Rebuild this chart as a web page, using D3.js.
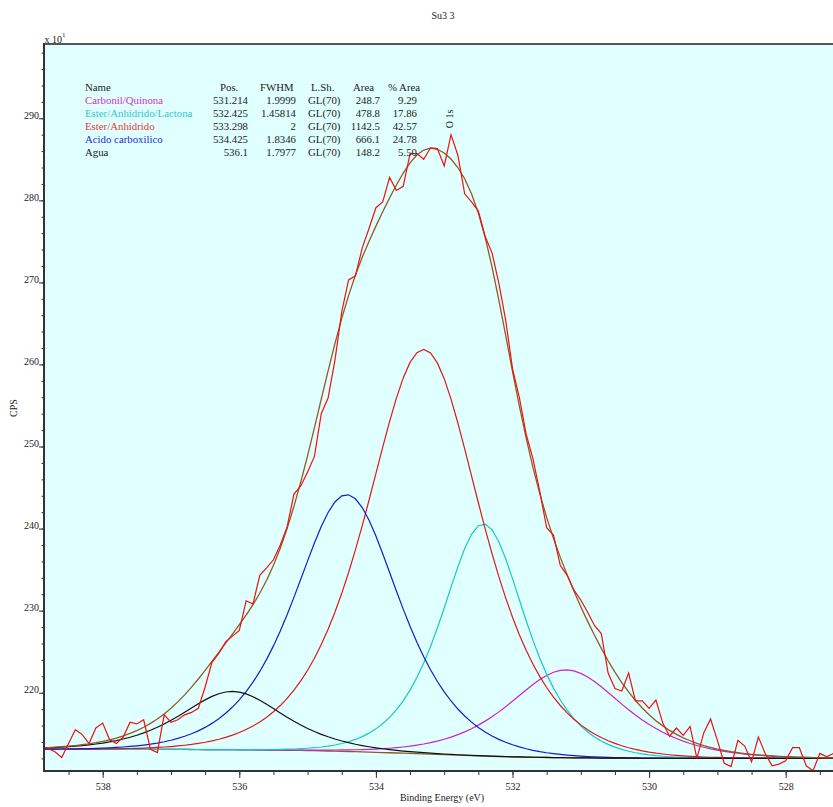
<!DOCTYPE html>
<html><head><meta charset="utf-8">
<script src="https://cdn.jsdelivr.net/npm/d3@7"></script>
<style>body{margin:0;background:#fff}text{font-family:"Liberation Serif","Times New Roman",serif}</style>
</head><body>
<svg id="c" width="833" height="807"></svg>
<script>
// ---- data ----
const energies = [538.9,538.8,538.7,538.6,538.5,538.4,538.3,538.2,538.1,538.0,
537.9,537.8,537.7,537.6,537.5,537.4,537.3,537.2,537.1,537.0,
536.9,536.8,536.7,536.6,536.5,536.4,536.3,536.2,536.1,536.0,
535.9,535.8,535.7,535.6,535.5,535.4,535.3,535.2,535.1,535.0,
534.9,534.8,534.7,534.6,534.5,534.4,534.3,534.2,534.1,534.0,
533.9,533.8,533.7,533.6,533.5,533.4,533.3,533.2,533.1,533.0,
532.9,532.8,532.7,532.6,532.5,532.4,532.3,532.2,532.1,532.0,
531.9,531.8,531.7,531.6,531.5,531.4,531.3,531.2,531.1,531.0,
530.9,530.8,530.7,530.6,530.5,530.4,530.3,530.2,530.1,530.0,
529.9,529.8,529.7,529.6,529.5,529.4,529.3,529.2,529.1,529.0,
528.9,528.8,528.7,528.6,528.5,528.4,528.3,528.2,528.1,528.0,
527.9,527.8,527.7,527.6,527.5,527.4,527.3];
const counts = [213.5,213.2,212.8,212.1,213.8,215.5,214.9,213.8,215.7,216.3,
214.3,213.8,214.6,216.4,216.2,216.7,213.1,212.7,217.3,216.4,
216.7,217.3,217.6,218.1,220.7,223.7,224.8,226.2,226.9,227.6,
231.2,230.8,234.3,235.2,236.2,238.0,240.2,244.2,245.2,246.9,
248.8,254.0,255.9,260.5,266.4,270.3,270.8,274.2,276.6,279.1,
279.8,282.8,281.2,281.7,285.7,285.7,285.0,286.4,286.3,284.2,
288.0,285.5,280.8,279.8,278.7,275.6,273.6,269.9,265.4,259.5,
256.0,251.5,248.5,244.5,240.1,239.2,235.5,234.3,232.5,231.3,
229.8,228.2,227.2,222.4,220.5,220.2,222.4,219.0,219.0,218.1,
219.1,216.3,214.7,215.7,214.8,215.9,212.0,215.1,216.8,214.2,
211.4,211.0,214.2,213.5,211.6,214.6,212.6,211.1,211.3,211.7,
213.3,213.3,211.1,210.5,212.6,212.2,212.6];

const peakNames  = ["Carbonil/Quinona","Ester/Anhidrido/Lactona","Ester/Anhidrido","Acido carboxilico","Agua"];
const peakPos    = [531.214, 532.425, 533.298, 534.425, 536.1];
const peakFWHM   = [1.9999, 1.45814, 2, 1.8346, 1.7977];
const peakLSh    = ["GL(70)","GL(70)","GL(70)","GL(70)","GL(70)"];
const peakArea   = ["248.7","478.8","1142.5","666.1","148.2"];
const peakPct    = ["9.29","17.86","42.57","24.78","5.50"];
const peakHeight = [10.7, 28.3, 49.3, 31.3, 7.1];   // peak heights above background (x10 CPS)
const peakLabelColors = ["#cc33cc","#33c8c8","#e23a3a","#2a2ae0","#222222"];
const peakLineColors  = ["#cc22cc","#18c8c8","#e01818","#1a1acc","#111111"];
const bgLeft = 213.1, bgRight = 212.0;   // Shirley background end levels
const xMajor = [538,536,534,532,530,528];
const yMajor = [220,230,240,250,260,270,280,290];
const xMinor = d3.range(538.5, 527.4, -0.5);
const yMinor = d3.range(212, 299, 2);

// ---- layout ----
const svg = d3.select("#c");
const L = 44, T = 44, R = 833, B = 771;
const x = d3.scaleLinear().domain([538.8594, 527.3075]).range([L, R]);
const y = d3.scaleLinear().domain([210.46, 299.05]).range([B, T]);

svg.append("defs").append("clipPath").attr("id","clip")
  .append("rect").attr("x",L).attr("y",T).attr("width",R-L).attr("height",B-T);
svg.append("rect").attr("x",L).attr("y",T).attr("width",R-L).attr("height",B-T).attr("fill","#e0ffff");

// ---- GL(m) product lineshape, normalised so that width at half height = FWHM ----
function glRaw(d, m){ return Math.exp(-4*Math.LN2*(1-m)*d*d)/(1+4*m*d*d); }
function halfPoint(m){ let lo=0, hi=1; for(let i=0;i<60;i++){const mid=(lo+hi)/2; if(glRaw(mid,m)>0.5) lo=mid; else hi=mid;} return (lo+hi)/2; }
const m70 = 0.7, d0 = halfPoint(m70);
function gl(E, pos, fwhm, h){ return h*glRaw((E-pos)/fwhm*2*d0, m70); }

const comps = peakPos.map((p,i)=> energies.map(E=> gl(E,p,peakFWHM[i],peakHeight[i])));
const sumPk = energies.map((E,j)=> d3.sum(comps, c=>c[j]));
// Shirley-type background from cumulative peak area (integrated from the low-BE end)
const n = energies.length;
const cum = new Array(n).fill(0);
for (let j=n-2;j>=0;j--) cum[j] = cum[j+1] + 0.5*(sumPk[j]+sumPk[j+1])*Math.abs(energies[j]-energies[j+1]);
const bg = cum.map(c=> bgRight + (bgLeft-bgRight)*c/cum[0]);

const line = d3.line().x(d=>x(d[0])).y(d=>y(d[1]));
const plot = svg.append("g").attr("clip-path","url(#clip)");

plot.append("path").datum(energies.map((E,j)=>[E,bg[j]]))
  .attr("d",line).attr("fill","none").attr("stroke","#8a5a2a").attr("stroke-width",1.3);
comps.forEach((c,i)=>{
  plot.append("path").datum(energies.map((E,j)=>[E,bg[j]+c[j]]))
    .attr("d",line).attr("fill","none").attr("stroke",peakLineColors[i]).attr("stroke-width",1.2);
});
plot.append("path").datum(energies.map((E,j)=>[E,bg[j]+sumPk[j]]))
  .attr("d",line).attr("fill","none").attr("stroke","#935a20").attr("stroke-width",1.3);
plot.append("path").datum(energies.map((E,j)=>[E,counts[j]]))
  .attr("d",line).attr("fill","none").attr("stroke","#f01010").attr("stroke-width",1.2);

// ---- axes ----
const ax = svg.append("g").attr("transform",`translate(0,${B})`);
ax.call(d3.axisBottom(x).tickValues(xMinor).tickSize(4).tickFormat(""));
ax.select(".domain").remove();
const axM = svg.append("g").attr("transform",`translate(0,${B})`);
axM.call(d3.axisBottom(x).tickValues(xMajor).tickSize(7).tickFormat(d3.format("d")));
axM.select(".domain").remove();
axM.selectAll("text").attr("y",18.5).attr("dy",0).attr("font-size",10).attr("fill","#222")
  .style("font-family",'"Liberation Serif",serif');

const ay = svg.append("g").attr("transform",`translate(${L},0)`);
ay.call(d3.axisLeft(y).tickValues(yMinor).tickSize(2.5).tickFormat(""));
ay.select(".domain").remove();
const ayM = svg.append("g").attr("transform",`translate(${L},0)`);
ayM.call(d3.axisLeft(y).tickValues(yMajor).tickSize(5).tickFormat(d3.format("d")));
ayM.select(".domain").remove();
ayM.selectAll("text").attr("x",-5).attr("dy",0).attr("font-size",10).attr("fill","#222")
  .style("font-family",'"Liberation Serif",serif');
svg.selectAll(".tick line").attr("stroke","#333");

// frame lines
svg.append("line").attr("x1",L).attr("x2",R).attr("y1",T).attr("y2",T).attr("stroke","#555").attr("stroke-width",2);
svg.append("line").attr("x1",L).attr("x2",L).attr("y1",T-1).attr("y2",B+1).attr("stroke","#333").attr("stroke-width",2);
svg.append("line").attr("x1",L).attr("x2",R).attr("y1",B).attr("y2",B).attr("stroke","#333").attr("stroke-width",2);

// ---- texts ----
const tx = (xx,yy,s,opt={})=> svg.append("text").attr("x",xx).attr("y",yy).text(s)
  .attr("font-size",opt.fs||10).attr("fill",opt.fill||"#222").attr("text-anchor",opt.anchor||"start");
tx(443,19,"Su3 3",{anchor:"middle"});
tx(442,801,"Binding Energy (eV)",{anchor:"middle"});
svg.append("text").attr("transform","translate(17,408) rotate(-90)").attr("text-anchor","middle")
  .attr("font-size",10).attr("fill","#222").text("CPS");
const xt = svg.append("text").attr("x",44.5).attr("y",43).attr("font-size",10).attr("fill","#222");
xt.append("tspan").text("x 10");
xt.append("tspan").attr("dy",-6).attr("font-size",7).text("1");

// table
const rowY0 = 91, rowDy = 13, tfs = 10.8;
tx(85,rowY0,"Name",{fs:tfs}); tx(220,rowY0,"Pos.",{fs:tfs}); tx(260,rowY0,"FWHM",{fs:tfs});
tx(311,rowY0,"L.Sh.",{fs:tfs}); tx(353,rowY0,"Area",{fs:tfs}); tx(388,rowY0,"% Area",{fs:tfs});
peakNames.forEach((nm,i)=>{
  const yy = rowY0 + rowDy*(i+1);
  tx(85,yy,nm,{fill:peakLabelColors[i],fs:tfs});
  tx(248,yy,String(peakPos[i]),{anchor:"end",fs:tfs});
  tx(296,yy,String(peakFWHM[i]),{anchor:"end",fs:tfs});
  tx(308,yy,peakLSh[i],{fs:tfs});
  tx(380,yy,peakArea[i],{anchor:"end",fs:tfs});
  tx(417,yy,peakPct[i],{anchor:"end",fs:tfs});
});
svg.append("text").attr("transform","translate(453,119) rotate(-90)").attr("text-anchor","middle")
  .attr("font-size",10).attr("fill","#222").text("O 1s");
</script>
</body></html>
